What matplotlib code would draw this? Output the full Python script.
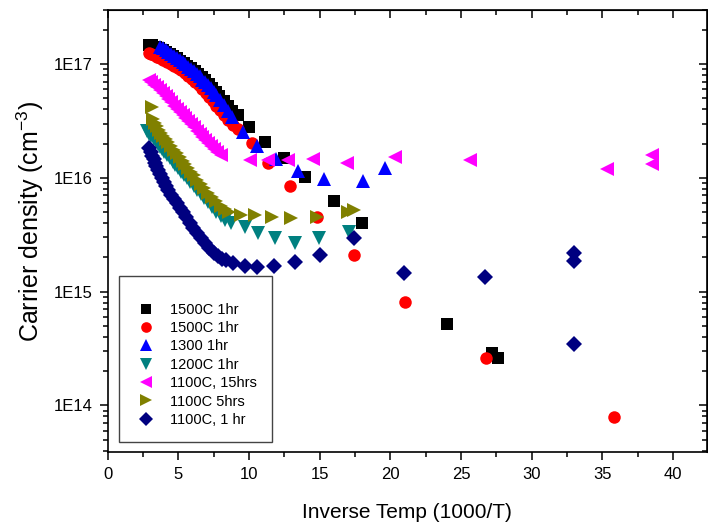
import matplotlib
matplotlib.use("Agg")
import matplotlib.pyplot as plt
from matplotlib.ticker import FuncFormatter, LogLocator, MultipleLocator, NullFormatter
from matplotlib.patches import Rectangle
import numpy as np

plt.rcParams['font.family'] = ['Liberation Sans', 'DejaVu Sans']
plt.rcParams['mathtext.fontset'] = 'custom'
plt.rcParams['mathtext.rm'] = 'Liberation Sans'
plt.rcParams['mathtext.it'] = 'Liberation Sans'

# data (x = 1000/T, y = carrier density in cm^-3)
x_1500a = [2.95, 3.15, 3.4, 3.65, 3.9, 4.15, 4.4, 4.65, 4.9, 5.15, 5.4, 5.65, 5.9, 6.15, 6.4,
           6.65, 6.9, 7.15, 7.4, 7.65, 7.9, 8.2, 8.5, 8.8, 9.2,
           10.0, 11.15, 12.5, 13.97, 16.0, 18.0, 24.0, 27.2, 27.6]
y_1500a = [1.48e17, 1.47e17, 1.42e17, 1.37e17, 1.32e17, 1.27e17, 1.22e17, 1.17e17, 1.12e17,
           1.07e17, 1.02e17, 9.7e16, 9.2e16, 8.7e16, 8.2e16, 7.7e16, 7.2e16, 6.7e16, 6.2e16,
           5.7e16, 5.2e16, 4.7e16, 4.3e16, 3.9e16, 3.6e16,
           2.8e16, 2.06e16, 1.49e16, 1.01e16, 6.24e15, 4.0e15, 5.2e14, 2.87e14, 2.6e14]

x_1500b = [2.95, 3.1, 3.3, 3.5, 3.7, 3.95, 4.2, 4.45, 4.7, 4.95, 5.2, 5.45, 5.7, 5.95, 6.2,
           6.45, 6.7, 6.95, 7.2, 7.45, 7.7, 7.95, 8.25, 8.55, 8.85,
           9.25, 10.2, 11.35, 12.9, 14.8, 17.4, 21.05, 26.8, 35.85]
y_1500b = [1.25e17, 1.22e17, 1.19e17, 1.16e17, 1.13e17, 1.09e17, 1.05e17, 1.01e17, 9.7e16,
           9.3e16, 8.8e16, 8.4e16, 7.9e16, 7.4e16, 6.95e16, 6.5e16, 6.0e16, 5.55e16, 5.1e16,
           4.7e16, 4.3e16, 3.95e16, 3.55e16, 3.2e16, 2.9e16,
           2.68e16, 2.02e16, 1.35e16, 8.45e15, 4.5e15, 2.09e15, 8.07e14, 2.6e14, 7.85e13]

x_1300 = [3.7, 3.9, 4.1, 4.3, 4.5, 4.7, 4.9, 5.1, 5.3, 5.5, 5.7, 5.9, 6.1, 6.3, 6.5, 6.7, 6.9,
          7.1, 7.3, 7.5, 7.7, 7.95, 8.2, 8.5, 8.8,
          9.6, 10.6, 11.9, 13.5, 15.3, 18.1, 19.6]
y_1300 = [1.42e17, 1.37e17, 1.33e17, 1.28e17, 1.23e17, 1.18e17, 1.14e17, 1.09e17, 1.05e17,
          1.0e17, 9.5e16, 9.1e16, 8.7e16, 8.2e16, 7.8e16, 7.3e16, 6.9e16, 6.5e16, 6.1e16,
          5.7e16, 5.3e16, 4.8e16, 4.35e16, 3.9e16, 3.45e16,
          2.52e16, 1.9e16, 1.46e16, 1.15e16, 9.75e15, 9.36e15, 1.22e16]

x_1200 = [2.8, 2.95, 3.1, 3.25, 3.4, 3.55, 3.7, 3.85, 4.0, 4.2, 4.4, 4.6, 4.8, 5.0, 5.2, 5.4,
          5.6, 5.85, 6.1, 6.35, 6.6, 6.85, 7.1, 7.4, 7.7, 8.0, 8.3, 8.7,
          9.7, 10.65, 11.85, 13.25, 14.95, 17.1]
y_1200 = [2.6e16, 2.45e16, 2.32e16, 2.2e16, 2.09e16, 1.98e16, 1.88e16, 1.78e16, 1.69e16,
          1.58e16, 1.48e16, 1.38e16, 1.29e16, 1.21e16, 1.13e16, 1.06e16, 9.9e15, 9.2e15,
          8.5e15, 7.8e15, 7.2e15, 6.6e15, 6.1e15, 5.5e15, 5.0e15, 4.6e15, 4.3e15, 4.0e15,
          3.68e15, 3.26e15, 2.95e15, 2.67e15, 2.95e15, 3.33e15]

x_1100_15 = [2.95, 3.1, 3.3, 3.5, 3.7, 3.9, 4.1, 4.3, 4.5, 4.7, 4.9, 5.1, 5.3, 5.5, 5.7, 5.9,
             6.1, 6.3, 6.5, 6.7, 6.9, 7.1, 7.3, 7.5, 7.75, 8.0,
             10.1, 11.35, 12.75, 14.5, 16.9, 20.3, 25.6, 35.35, 38.5, 38.5]
y_1100_15 = [7.3e16, 7.0e16, 6.6e16, 6.25e16, 5.9e16, 5.55e16, 5.2e16, 4.9e16, 4.6e16, 4.3e16,
             4.05e16, 3.8e16, 3.55e16, 3.35e16, 3.15e16, 2.95e16, 2.77e16, 2.6e16, 2.45e16,
             2.3e16, 2.15e16, 2.02e16, 1.9e16, 1.8e16, 1.7e16, 1.6e16,
             1.43e16, 1.43e16, 1.43e16, 1.46e16, 1.35e16, 1.52e16, 1.43e16, 1.19e16, 1.58e16,
             1.32e16]

x_1100_5 = [3.14, 3.2, 3.35, 3.5, 3.65, 3.8, 3.95, 4.1, 4.3, 4.5, 4.7, 4.9, 5.1, 5.3, 5.5, 5.7,
            5.9, 6.1, 6.35, 6.6, 6.85, 7.1, 7.4, 7.7, 8.0, 8.3, 8.6,
            9.4, 10.4, 11.6, 13.0, 14.8, 17.0, 17.4]
y_1100_5 = [4.19e16, 3.3e16, 3.05e16, 2.85e16, 2.65e16, 2.5e16, 2.35e16, 2.2e16, 2.05e16,
            1.9e16, 1.77e16, 1.64e16, 1.52e16, 1.41e16, 1.31e16, 1.22e16, 1.13e16, 1.05e16,
            9.6e15, 8.8e15, 8.1e15, 7.4e15, 6.8e15, 6.2e15, 5.7e15, 5.3e15, 5.0e15,
            4.7e15, 4.7e15, 4.5e15, 4.4e15, 4.5e15, 5.0e15, 5.2e15]

x_1100_1 = [2.95, 3.05, 3.15, 3.25, 3.35, 3.45, 3.55, 3.7, 3.85, 4.0, 4.15, 4.3, 4.5, 4.7, 4.9,
            5.1, 5.3, 5.55, 5.8, 6.05, 6.3, 6.6, 6.9, 7.2, 7.5, 7.8, 8.1, 8.4,
            8.9, 9.7, 10.6, 11.8, 13.25, 15.0, 17.4, 21.0, 26.7, 33.0, 33.0, 33.0]
y_1100_1 = [1.82e16, 1.68e16, 1.56e16, 1.45e16, 1.35e16, 1.26e16, 1.18e16, 1.08e16, 9.9e15,
            9.1e15, 8.4e15, 7.8e15, 7.1e15, 6.5e15, 5.95e15, 5.45e15, 5.0e15, 4.5e15, 4.05e15,
            3.65e15, 3.3e15, 2.95e15, 2.65e15, 2.4e15, 2.2e15, 2.05e15, 1.95e15, 1.9e15,
            1.78e15, 1.67e15, 1.64e15, 1.67e15, 1.82e15, 2.09e15, 2.95e15, 1.45e15, 1.34e15,
            2.18e15, 1.85e15, 3.44e14]

labels = ['1500C 1hr', '1500C 1hr', '1300 1hr', '1200C 1hr', '1100C, 15hrs', '1100C 5hrs', '1100C, 1 hr']
colors = ['#000000', '#ff0000', '#0000ff', '#008080', '#ff00ff', '#808000', '#000080']
markers = ['s', 'o', '^', 'v', '<', '>', 'D']
sizes = [8, 9, 9.5, 9.5, 9.5, 9.5, 8]
series = [(x_1500a, y_1500a), (x_1500b, y_1500b), (x_1300, y_1300), (x_1200, y_1200),
          (x_1100_15, y_1100_15), (x_1100_5, y_1100_5), (x_1100_1, y_1100_1)]

fig = plt.figure(figsize=(7.08, 5.27), dpi=100)
ax = fig.add_axes([0.152, 0.1423, 0.8466, 0.8393])

handles = []
for (xs, ys), lab, c, m, s in zip(series, labels, colors, markers, sizes):
    h, = ax.plot(xs, ys, linestyle='none', marker=m, color=c, markersize=s,
                 markeredgewidth=0, label=lab)
    handles.append(h)

ax.set_yscale('log')
ax.set_xlim(0, 42.4)
ax.set_ylim(3.9e13, 3e17)

ax.xaxis.set_major_locator(MultipleLocator(5))
ax.xaxis.set_minor_locator(MultipleLocator(2.5))
ax.yaxis.set_major_locator(LogLocator(base=10, numticks=10))
ax.yaxis.set_minor_locator(LogLocator(base=10, subs=np.arange(2, 10), numticks=10))
ax.yaxis.set_minor_formatter(NullFormatter())
ax.yaxis.set_major_formatter(FuncFormatter(lambda v, p: '1E%d' % round(np.log10(v))))

ax.tick_params(which='major', direction='out', length=6, width=1.1, labelsize=12, pad=5)
ax.tick_params(which='minor', direction='out', length=3.5, width=1.1)
for sp in ax.spines.values():
    sp.set_linewidth(1.2)

# mirrored ticks on top and right point inward
top = ax.secondary_xaxis('top')
top.xaxis.set_major_locator(MultipleLocator(5))
top.xaxis.set_minor_locator(MultipleLocator(2.5))
top.tick_params(which='major', direction='in', length=6, width=1.1, labeltop=False)
top.tick_params(which='minor', direction='in', length=3.5, width=1.1)
right = ax.secondary_yaxis('right')
right.yaxis.set_major_locator(LogLocator(base=10, numticks=10))
right.yaxis.set_minor_locator(LogLocator(base=10, subs=np.arange(2, 10), numticks=10))
right.tick_params(which='major', direction='in', length=6, width=1.1, labelright=False)
right.tick_params(which='minor', direction='in', length=3.5, width=1.1, labelright=False)
right.yaxis.set_minor_formatter(NullFormatter())

ax.set_xlabel('Inverse Temp (1000/T)', fontsize=15, labelpad=15)
ax.set_ylabel('Carrier density (cm$^{-3}$)', fontsize=18)
ax.yaxis.set_label_coords(-0.102, 0.52)

# legend box like the original: framed rectangle with space on top
ax.add_patch(Rectangle((0.0189, 0.0226), 0.255, 0.375, transform=ax.transAxes,
                       fill=False, edgecolor='#444444', linewidth=1.0, zorder=5))
ax.legend(handles=handles, loc='lower left', bbox_to_anchor=(0.028, 0.027), frameon=False,
          fontsize=10.5, handlelength=1.2, handletextpad=1.0, labelspacing=0.3,
          markerscale=0.85)

fig.savefig('out.png', dpi=100)
